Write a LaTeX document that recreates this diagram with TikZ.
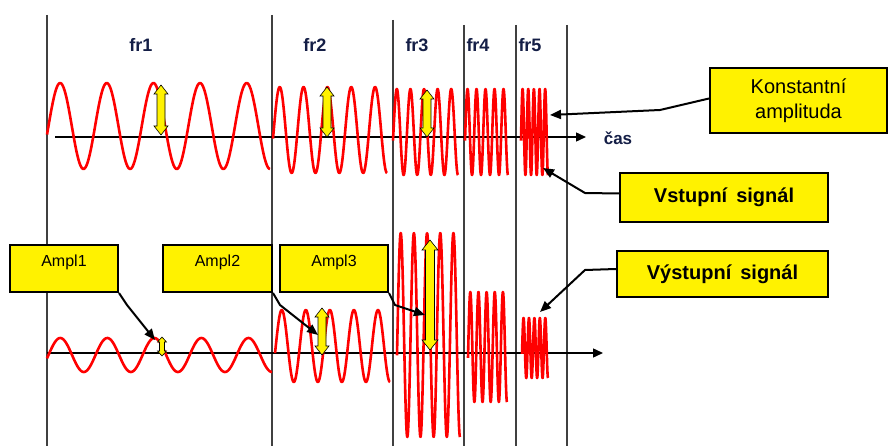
\documentclass[tikz,border=0pt]{standalone}
\usepackage{fontspec}
\setmainfont{Liberation Sans}
\usetikzlibrary{arrows.meta}
\definecolor{labnavy}{RGB}{20,30,70}
\newcommand\SinSeg[5]{%
  \draw[sig] plot[domain=#1:#2, samples=220, smooth]
    (\x, {#3 - #4*sin(deg(-0.2 + (\x-#1)/(#2-#1)*(#5*6.2832-1.5708+0.2)))});}
\newcommand\YelArr[6]{%
  \draw[yarr] (#1,#2) -- ({#1+#5},{#2+#6}) -- ({#1+#4},{#2+#6}) -- ({#1+#4},{#3-#6})
    -- ({#1+#5},{#3-#6}) -- (#1,#3) -- ({#1-#5},{#3-#6}) -- ({#1-#4},{#3-#6})
    -- ({#1-#4},{#2+#6}) -- ({#1-#5},{#2+#6}) -- cycle;}
\begin{document}
\begin{tikzpicture}[x=1pt,y=-1pt,
  vline/.style={draw=black!75, line width=1.1pt},
  sig/.style={draw=red, line width=2.6pt, line join=round},
  axisline/.style={draw=black, line width=1.4pt, -{Triangle[length=10pt,width=9pt]}},
  callout/.style={draw=black, line width=2pt, fill=yellow, inner sep=0pt, align=center},
  conn/.style={draw=black, line width=2pt, line join=round, -{Triangle[length=11pt,width=9pt]}},
  frlab/.style={font=\bfseries\fontsize{18}{20}\selectfont, text=labnavy},
  yarr/.style={fill=yellow, draw=black, line width=0.6pt, line join=miter},
  bigtxt/.style={font=\fontsize{20}{25}\selectfont},
  boldtxt/.style={font=\bfseries\fontsize{20}{24}\selectfont},
  smalltxt/.style={font=\fontsize{16}{18}\selectfont}]
\useasboundingbox (0,0) rectangle (888,446);
\fill[white] (0,0) rectangle (888,446);
% vertical separators
\draw[vline] (47,15) -- (47,446);
\draw[vline] (272,15) -- (272,446);
\draw[vline] (393,20) -- (393,446);
\draw[vline] (464,25) -- (464,446);
\draw[vline] (516,25) -- (516,446);
\draw[vline] (567,25) -- (567,446);
% frequency labels
\node[frlab] (fr1) at (141,45) {fr1};
\node[frlab] (fr2) at (315,45) {fr2};
\node[frlab] (fr3) at (417,45) {fr3};
\node[frlab] (fr4) at (478,45) {fr4};
\node[frlab] (fr5) at (530,45) {fr5};
% axes
\coordinate (ta0) at (55,137);
\coordinate (ta1) at (586,137);
\coordinate (ba0) at (47,353);
\coordinate (ba1) at (603,353);
\draw[axisline] (ta0) -- (ta1);
\draw[axisline] (ba0) -- (ba1);
\node[frlab, font=\bfseries\fontsize{17}{20}\selectfont] (cas) at (618,138) {čas};
% input signal
\SinSeg{47}{270}{126}{43}{5}
\SinSeg{273}{387}{130}{43}{5}
\SinSeg{393}{458}{132}{43}{5}
\SinSeg{465}{508}{132}{43}{5}
\SinSeg{521}{548}{132}{43}{5}
% output signal
\SinSeg{47}{272}{355}{17}{5}
\SinSeg{275}{390}{346}{36}{5}
\SinSeg{397}{460}{335}{102}{5}
\SinSeg{468}{507}{347}{55}{5}
\SinSeg{522}{548}{348}{30}{5}
% yellow amplitude arrows
\YelArr{161}{85}{135}{4}{7}{9}
\YelArr{327}{87}{137}{4}{7}{9}
\YelArr{427}{90}{137}{4}{7}{9}
\YelArr{162}{337}{356}{2.5}{4.5}{5}
\YelArr{322}{308}{355}{4}{7}{9}
\YelArr{430}{240}{350}{4.5}{8}{10}
% callout boxes
\node[callout, bigtxt, minimum width=177pt, minimum height=65pt] (kbox) at (798.5,100.5) {Konstantní\\amplituda};
\node[callout, boldtxt, minimum width=208pt, minimum height=49pt] (vbox) at (724,197.5) {Vstupní\hspace{0.45em}signál};
\node[callout, boldtxt, minimum width=211pt, minimum height=46pt] (ybox) at (722.5,274) {Výstupní\hspace{0.45em}signál};
\node[callout, minimum width=108pt, minimum height=47pt] (a1) at (64,268.5) {};
\node[callout, minimum width=109pt, minimum height=47pt] (a2) at (217.5,268.5) {};
\node[callout, minimum width=108pt, minimum height=47pt] (a3) at (334,268.5) {};
\node[smalltxt] (a1t) at (64,262) {Ampl1};
\node[smalltxt] (a2t) at (217.5,262) {Ampl2};
\node[smalltxt] (a3t) at (334,262) {Ampl3};
% connectors
\coordinate (kt) at (550,115);
\coordinate (vt) at (543,168);
\coordinate (yt) at (540,312);
\coordinate (a1tip) at (155,340);
\coordinate (a2tip) at (318,335);
\coordinate (a3tip) at (425,315);
\draw[conn] ([yshift=2pt]kbox.west) -- (660,110) -- (kt);
\draw[conn] ([yshift=4pt]vbox.west) -- (585,193) -- (vt);
\draw[conn] ([yshift=5pt]ybox.west) -- (585,270) -- (yt);
\draw[conn] (a1.south east) -- (127,305) -- (a1tip);
\draw[conn] (a2.south east) -- (280,305) -- (a2tip);
\draw[conn] (a3.south east) -- (395,305) -- (a3tip);
\end{tikzpicture}
\end{document}
